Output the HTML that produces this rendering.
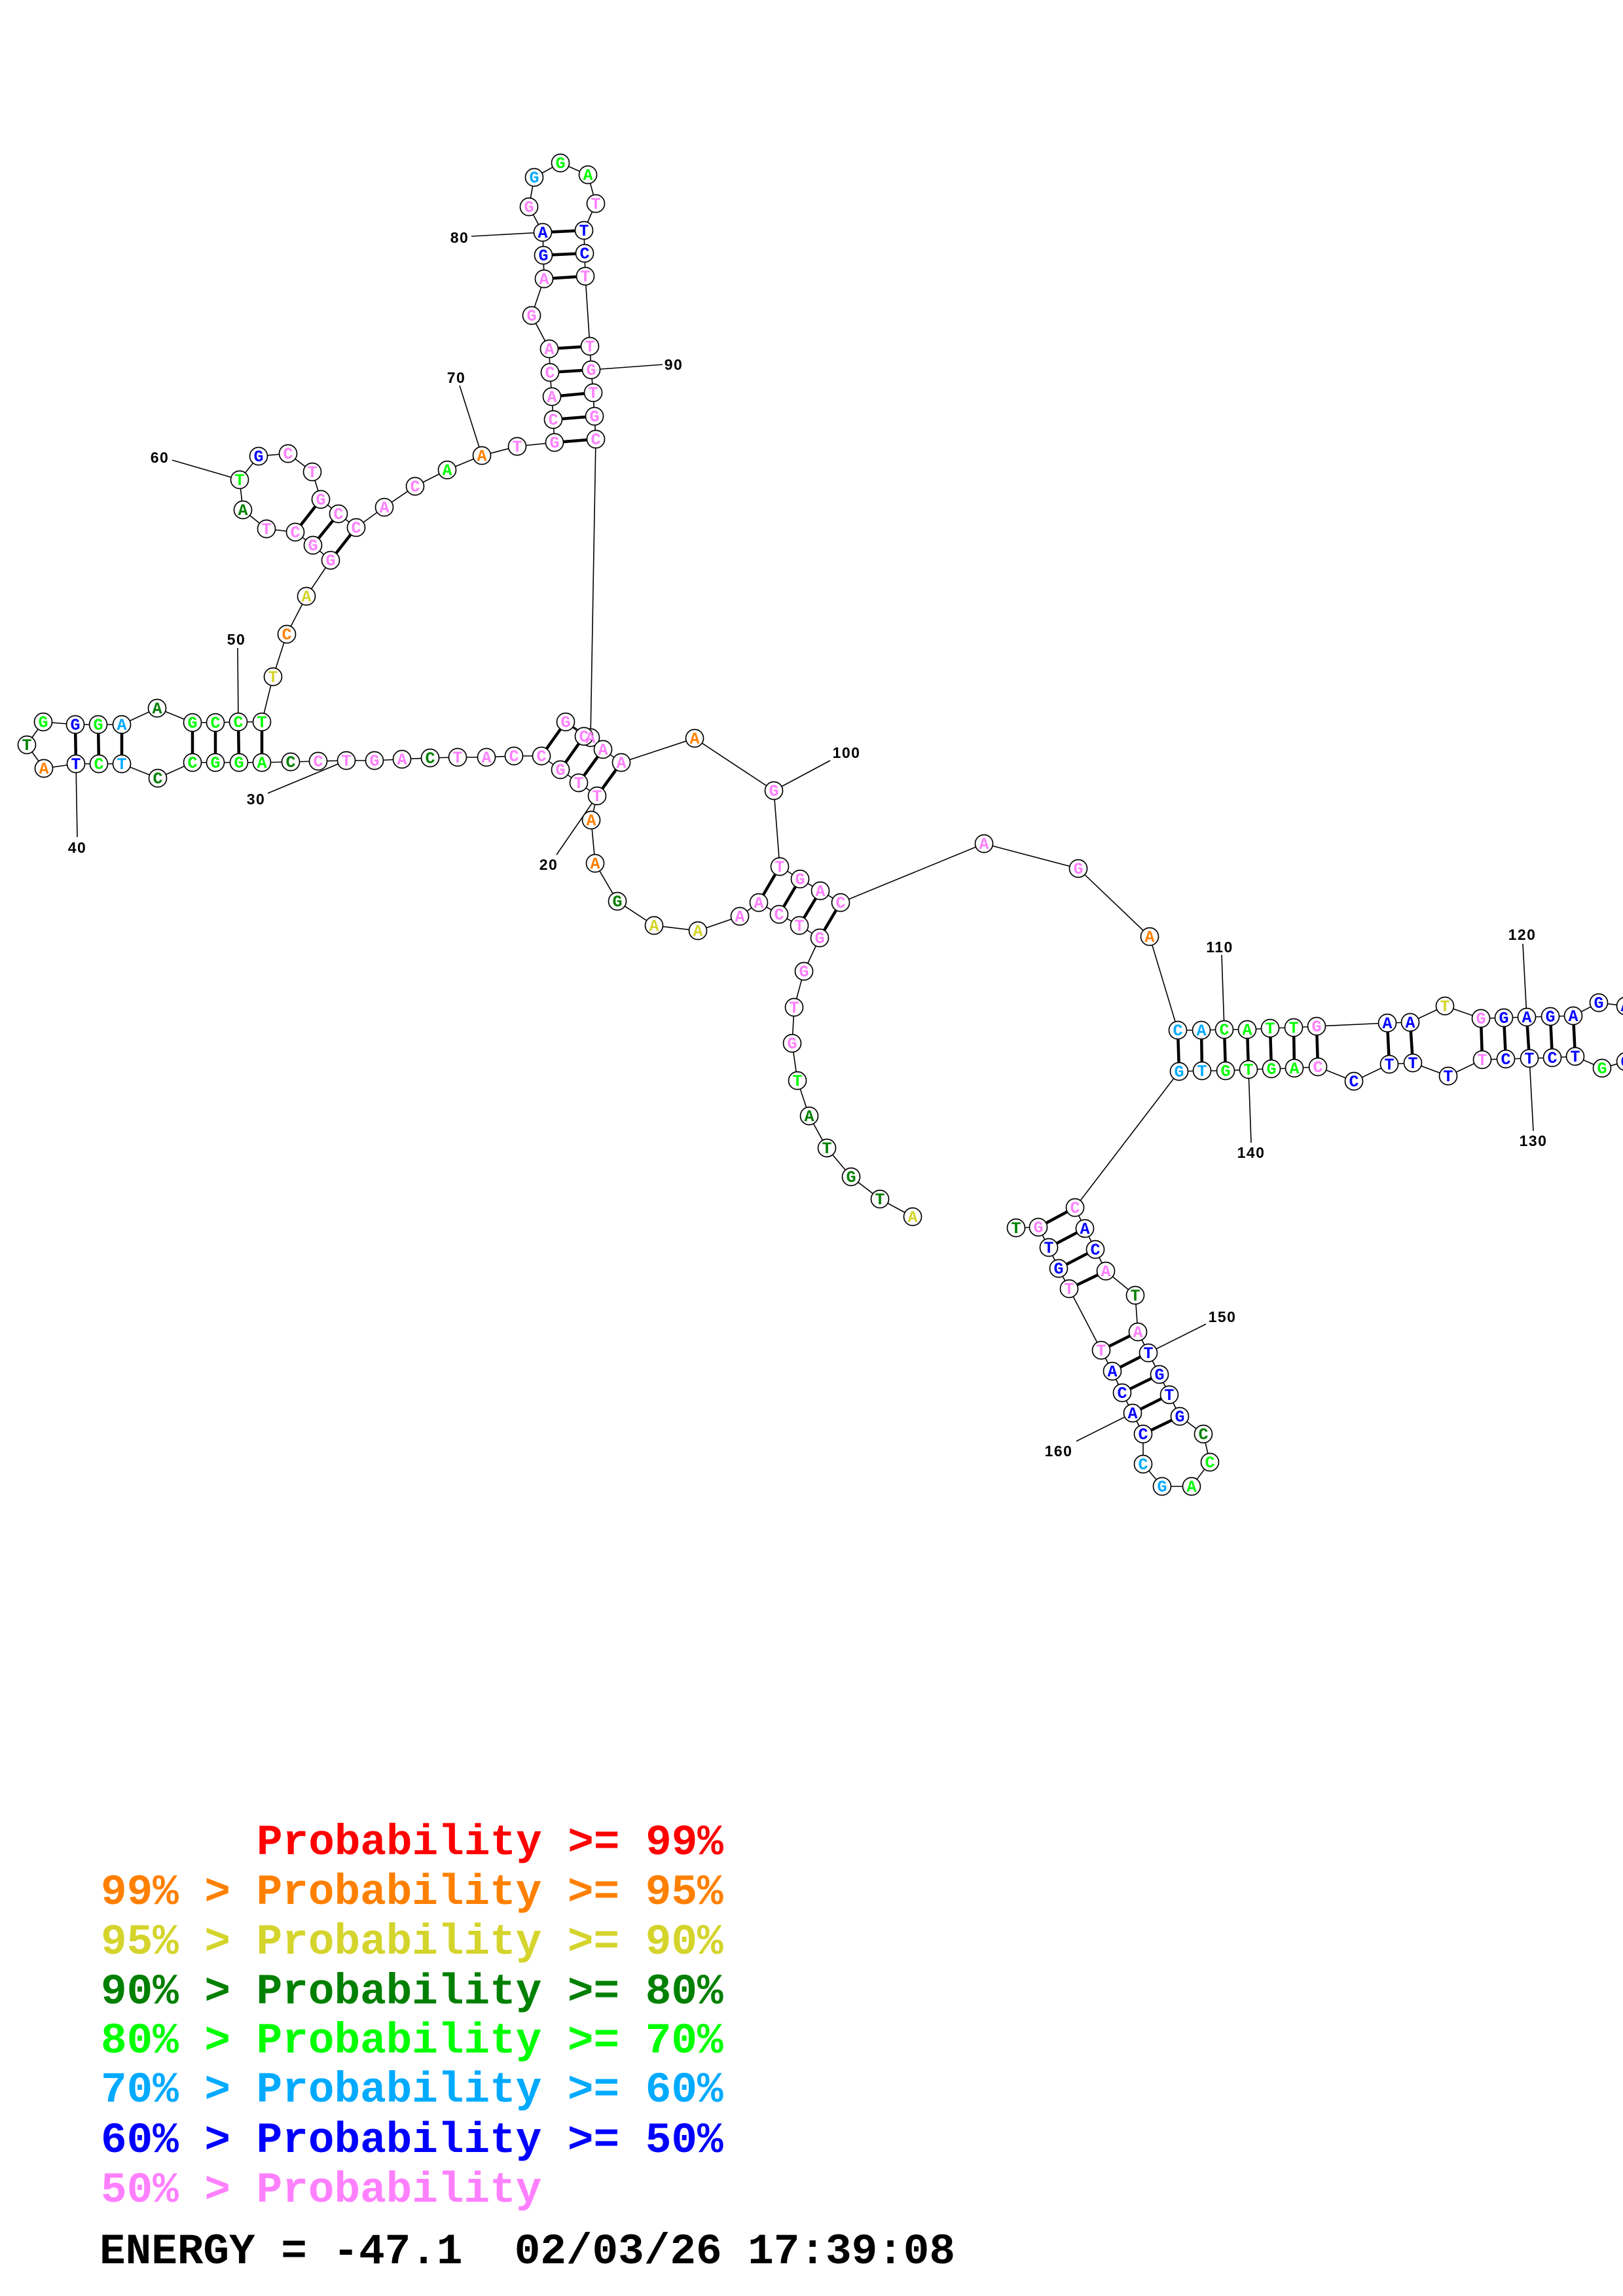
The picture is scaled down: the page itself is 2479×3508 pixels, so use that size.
<!DOCTYPE html>
<html>
<head>
<meta charset="utf-8">
<style>
html,body{margin:0;padding:0;background:#fff;}
svg{display:block;}
.bb{fill:none;stroke:#000;stroke-width:1.6;}
.pr line{stroke:#000;stroke-width:4.5;}
.ll line{stroke:#000;stroke-width:1.6;}
.nc circle{fill:#fff;stroke:#000;stroke-width:1.7;}
.nt text{font-family:"Liberation Mono","DejaVu Sans Mono",monospace;font-weight:bold;font-size:25px;text-anchor:middle;}
.lb text{font-family:"Liberation Sans","DejaVu Sans",sans-serif;font-weight:bold;font-size:23px;text-anchor:middle;letter-spacing:1.5px;fill:#000;}
.lg text{font-family:"Liberation Mono","DejaVu Sans Mono",monospace;font-weight:bold;font-size:66px;}
.P{fill:#ff80ff}.B{fill:#0000ff}.C{fill:#00aaff}.G{fill:#00ff00}.D{fill:#008000}.Y{fill:#d4d42c}.O{fill:#ff8000}.R{fill:#ff0000}.K{fill:#000}
</style>
</head>
<body>
<svg width="2479" height="3508" viewBox="0 0 2479 3508" xmlns="http://www.w3.org/2000/svg">
<rect width="2479" height="3508" fill="#fff"/>

<g class="ll">
<line x1="850" y1="1306" x2="912" y2="1216"/>
<line x1="409" y1="1212" x2="529" y2="1162"/>
<line x1="116" y1="1167" x2="118" y2="1279"/>
<line x1="363" y1="990" x2="364" y2="1103"/>
<line x1="263" y1="703" x2="366" y2="733"/>
<line x1="702" y1="589" x2="736" y2="696"/>
<line x1="720" y1="361" x2="829" y2="355"/>
<line x1="903" y1="565" x2="1012" y2="557"/>
<line x1="1182" y1="1208" x2="1268" y2="1162"/>
<line x1="1866" y1="1459" x2="1870" y2="1573"/>
<line x1="2326" y1="1442" x2="2332" y2="1554"/>
<line x1="2336" y1="1617" x2="2342" y2="1728"/>
<line x1="1907" y1="1634" x2="1911" y2="1746"/>
<line x1="1754" y1="2067" x2="1842" y2="2023"/>
<line x1="1730" y1="2159" x2="1644" y2="2202"/>
</g>

<polyline class="bb" points="1394,1859 1344,1832 1300,1798 1263,1754 1236,1705 1218,1651 1210,1594 1213,1539 1228,1484 1252,1433 1221,1414 1190,1397 1159,1379 1130,1400 1066,1422 999,1414 943,1377 909,1319 903,1253 912,1216 884,1196 856,1176 827,1155 785,1155 743,1157 699,1157 657,1158 614,1160 572,1162 529,1162 486,1163 444,1164 400,1165 365,1165 329,1165 294,1165 241,1189 186,1167 151,1167 116,1167 67,1174 41,1138 66,1103 115,1107 150,1107 186,1107 240,1082 294,1104 329,1104 364,1103 400,1103 417,1034 438,969 468,911 505,856 478,833 451,813 407,808 371,779 366,733 395,697 440,693 477,721 490,763 517,785 544,806 587,775 634,743 683,718 736,696 790,682 847,676 845,641 843,606 840,569 839,533 812,482 831,426 830,390 829,355 808,316 816,271 856,249 898,267 910,311 892,352 893,387 894,422 901,529 903,565 906,600 908,636 910,671 902,1127 864,1103 892,1125 921,1145 949,1165 1061,1128 1182,1208 1191,1324 1222,1343 1253,1361 1284,1379 1503,1289 1647,1327 1756,1431 1799,1574 1835,1574 1870,1573 1905,1573 1940,1571 1976,1570 2011,1568 2119,1563 2154,1562 2207,1537 2262,1556 2297,1555 2332,1554 2368,1553 2403,1552 2442,1532 2483,1537 2515,1580 2483,1622 2447,1632 2406,1614 2371,1616 2336,1617 2300,1618 2264,1619 2212,1644 2158,1624 2122,1626 2068,1652 2013,1630 1977,1632 1942,1633 1907,1634 1872,1636 1836,1636 1801,1637 1642,1845 1657,1877 1673,1909 1689,1942 1734,1979 1738,2035 1754,2067 1771,2100 1786,2131 1802,2164 1838,2191 1848,2234 1820,2271 1775,2271 1746,2237 1746,2191 1730,2159 1714,2128 1699,2095 1682,2063 1633,1969 1617,1938 1602,1906 1586,1875 1552,1876"/>

<g class="pr">
<line x1="1252" y1="1433" x2="1284" y2="1379"/>
<line x1="1221" y1="1414" x2="1253" y2="1361"/>
<line x1="1190" y1="1397" x2="1222" y2="1343"/>
<line x1="1159" y1="1379" x2="1191" y2="1324"/>
<line x1="912" y1="1216" x2="949" y2="1165"/>
<line x1="884" y1="1196" x2="921" y2="1145"/>
<line x1="856" y1="1176" x2="892" y2="1125"/>
<line x1="827" y1="1155" x2="864" y2="1103"/>
<line x1="400" y1="1165" x2="400" y2="1103"/>
<line x1="365" y1="1165" x2="364" y2="1103"/>
<line x1="329" y1="1165" x2="329" y2="1104"/>
<line x1="294" y1="1165" x2="294" y2="1104"/>
<line x1="186" y1="1167" x2="186" y2="1107"/>
<line x1="151" y1="1167" x2="150" y2="1107"/>
<line x1="116" y1="1167" x2="115" y2="1107"/>
<line x1="505" y1="856" x2="544" y2="806"/>
<line x1="478" y1="833" x2="517" y2="785"/>
<line x1="451" y1="813" x2="490" y2="763"/>
<line x1="847" y1="676" x2="910" y2="671"/>
<line x1="845" y1="641" x2="908" y2="636"/>
<line x1="843" y1="606" x2="906" y2="600"/>
<line x1="840" y1="569" x2="903" y2="565"/>
<line x1="839" y1="533" x2="901" y2="529"/>
<line x1="831" y1="426" x2="894" y2="422"/>
<line x1="830" y1="390" x2="893" y2="387"/>
<line x1="829" y1="355" x2="892" y2="352"/>
<line x1="1799" y1="1574" x2="1801" y2="1637"/>
<line x1="1835" y1="1574" x2="1836" y2="1636"/>
<line x1="1870" y1="1573" x2="1872" y2="1636"/>
<line x1="1905" y1="1573" x2="1907" y2="1634"/>
<line x1="1940" y1="1571" x2="1942" y2="1633"/>
<line x1="1976" y1="1570" x2="1977" y2="1632"/>
<line x1="2011" y1="1568" x2="2013" y2="1630"/>
<line x1="2119" y1="1563" x2="2122" y2="1626"/>
<line x1="2154" y1="1562" x2="2158" y2="1624"/>
<line x1="2262" y1="1556" x2="2264" y2="1619"/>
<line x1="2297" y1="1555" x2="2300" y2="1618"/>
<line x1="2332" y1="1554" x2="2336" y2="1617"/>
<line x1="2368" y1="1553" x2="2371" y2="1616"/>
<line x1="2403" y1="1552" x2="2406" y2="1614"/>
<line x1="1642" y1="1845" x2="1586" y2="1875"/>
<line x1="1657" y1="1877" x2="1602" y2="1906"/>
<line x1="1673" y1="1909" x2="1617" y2="1938"/>
<line x1="1689" y1="1942" x2="1633" y2="1969"/>
<line x1="1738" y1="2035" x2="1682" y2="2063"/>
<line x1="1754" y1="2067" x2="1699" y2="2095"/>
<line x1="1771" y1="2100" x2="1714" y2="2128"/>
<line x1="1786" y1="2131" x2="1730" y2="2159"/>
<line x1="1802" y1="2164" x2="1746" y2="2191"/>
</g>

<g class="nc">
<circle cx="1394" cy="1859" r="13.5"/><circle cx="1344" cy="1832" r="13.5"/><circle cx="1300" cy="1798" r="13.5"/><circle cx="1263" cy="1754" r="13.5"/><circle cx="1236" cy="1705" r="13.5"/><circle cx="1218" cy="1651" r="13.5"/><circle cx="1210" cy="1594" r="13.5"/><circle cx="1213" cy="1539" r="13.5"/><circle cx="1228" cy="1484" r="13.5"/><circle cx="1252" cy="1433" r="13.5"/>
<circle cx="1221" cy="1414" r="13.5"/><circle cx="1190" cy="1397" r="13.5"/><circle cx="1159" cy="1379" r="13.5"/><circle cx="1130" cy="1400" r="13.5"/><circle cx="1066" cy="1422" r="13.5"/><circle cx="999" cy="1414" r="13.5"/><circle cx="943" cy="1377" r="13.5"/><circle cx="909" cy="1319" r="13.5"/><circle cx="903" cy="1253" r="13.5"/><circle cx="912" cy="1216" r="13.5"/>
<circle cx="884" cy="1196" r="13.5"/><circle cx="856" cy="1176" r="13.5"/><circle cx="827" cy="1155" r="13.5"/><circle cx="785" cy="1155" r="13.5"/><circle cx="743" cy="1157" r="13.5"/><circle cx="699" cy="1157" r="13.5"/><circle cx="657" cy="1158" r="13.5"/><circle cx="614" cy="1160" r="13.5"/><circle cx="572" cy="1162" r="13.5"/><circle cx="529" cy="1162" r="13.5"/>
<circle cx="486" cy="1163" r="13.5"/><circle cx="444" cy="1164" r="13.5"/><circle cx="400" cy="1165" r="13.5"/><circle cx="365" cy="1165" r="13.5"/><circle cx="329" cy="1165" r="13.5"/><circle cx="294" cy="1165" r="13.5"/><circle cx="241" cy="1189" r="13.5"/><circle cx="186" cy="1167" r="13.5"/><circle cx="151" cy="1167" r="13.5"/><circle cx="116" cy="1167" r="13.5"/>
<circle cx="67" cy="1174" r="13.5"/><circle cx="41" cy="1138" r="13.5"/><circle cx="66" cy="1103" r="13.5"/><circle cx="115" cy="1107" r="13.5"/><circle cx="150" cy="1107" r="13.5"/><circle cx="186" cy="1107" r="13.5"/><circle cx="240" cy="1082" r="13.5"/><circle cx="294" cy="1104" r="13.5"/><circle cx="329" cy="1104" r="13.5"/><circle cx="364" cy="1103" r="13.5"/>
<circle cx="400" cy="1103" r="13.5"/><circle cx="417" cy="1034" r="13.5"/><circle cx="438" cy="969" r="13.5"/><circle cx="468" cy="911" r="13.5"/><circle cx="505" cy="856" r="13.5"/><circle cx="478" cy="833" r="13.5"/><circle cx="451" cy="813" r="13.5"/><circle cx="407" cy="808" r="13.5"/><circle cx="371" cy="779" r="13.5"/><circle cx="366" cy="733" r="13.5"/>
<circle cx="395" cy="697" r="13.5"/><circle cx="440" cy="693" r="13.5"/><circle cx="477" cy="721" r="13.5"/><circle cx="490" cy="763" r="13.5"/><circle cx="517" cy="785" r="13.5"/><circle cx="544" cy="806" r="13.5"/><circle cx="587" cy="775" r="13.5"/><circle cx="634" cy="743" r="13.5"/><circle cx="683" cy="718" r="13.5"/><circle cx="736" cy="696" r="13.5"/>
<circle cx="790" cy="682" r="13.5"/><circle cx="847" cy="676" r="13.5"/><circle cx="845" cy="641" r="13.5"/><circle cx="843" cy="606" r="13.5"/><circle cx="840" cy="569" r="13.5"/><circle cx="839" cy="533" r="13.5"/><circle cx="812" cy="482" r="13.5"/><circle cx="831" cy="426" r="13.5"/><circle cx="830" cy="390" r="13.5"/><circle cx="829" cy="355" r="13.5"/>
<circle cx="808" cy="316" r="13.5"/><circle cx="816" cy="271" r="13.5"/><circle cx="856" cy="249" r="13.5"/><circle cx="898" cy="267" r="13.5"/><circle cx="910" cy="311" r="13.5"/><circle cx="892" cy="352" r="13.5"/><circle cx="893" cy="387" r="13.5"/><circle cx="894" cy="422" r="13.5"/><circle cx="901" cy="529" r="13.5"/><circle cx="903" cy="565" r="13.5"/>
<circle cx="906" cy="600" r="13.5"/><circle cx="908" cy="636" r="13.5"/><circle cx="910" cy="671" r="13.5"/><circle cx="902" cy="1127" r="13.5"/><circle cx="864" cy="1103" r="13.5"/><circle cx="892" cy="1125" r="13.5"/><circle cx="921" cy="1145" r="13.5"/><circle cx="949" cy="1165" r="13.5"/><circle cx="1061" cy="1128" r="13.5"/><circle cx="1182" cy="1208" r="13.5"/>
<circle cx="1191" cy="1324" r="13.5"/><circle cx="1222" cy="1343" r="13.5"/><circle cx="1253" cy="1361" r="13.5"/><circle cx="1284" cy="1379" r="13.5"/><circle cx="1503" cy="1289" r="13.5"/><circle cx="1647" cy="1327" r="13.5"/><circle cx="1756" cy="1431" r="13.5"/><circle cx="1799" cy="1574" r="13.5"/><circle cx="1835" cy="1574" r="13.5"/><circle cx="1870" cy="1573" r="13.5"/>
<circle cx="1905" cy="1573" r="13.5"/><circle cx="1940" cy="1571" r="13.5"/><circle cx="1976" cy="1570" r="13.5"/><circle cx="2011" cy="1568" r="13.5"/><circle cx="2119" cy="1563" r="13.5"/><circle cx="2154" cy="1562" r="13.5"/><circle cx="2207" cy="1537" r="13.5"/><circle cx="2262" cy="1556" r="13.5"/><circle cx="2297" cy="1555" r="13.5"/><circle cx="2332" cy="1554" r="13.5"/>
<circle cx="2368" cy="1553" r="13.5"/><circle cx="2403" cy="1552" r="13.5"/><circle cx="2442" cy="1532" r="13.5"/><circle cx="2483" cy="1537" r="13.5"/><circle cx="2515" cy="1580" r="13.5"/><circle cx="2483" cy="1622" r="13.5"/><circle cx="2447" cy="1632" r="13.5"/><circle cx="2406" cy="1614" r="13.5"/><circle cx="2371" cy="1616" r="13.5"/><circle cx="2336" cy="1617" r="13.5"/>
<circle cx="2300" cy="1618" r="13.5"/><circle cx="2264" cy="1619" r="13.5"/><circle cx="2212" cy="1644" r="13.5"/><circle cx="2158" cy="1624" r="13.5"/><circle cx="2122" cy="1626" r="13.5"/><circle cx="2068" cy="1652" r="13.5"/><circle cx="2013" cy="1630" r="13.5"/><circle cx="1977" cy="1632" r="13.5"/><circle cx="1942" cy="1633" r="13.5"/><circle cx="1907" cy="1634" r="13.5"/>
<circle cx="1872" cy="1636" r="13.5"/><circle cx="1836" cy="1636" r="13.5"/><circle cx="1801" cy="1637" r="13.5"/><circle cx="1642" cy="1845" r="13.5"/><circle cx="1657" cy="1877" r="13.5"/><circle cx="1673" cy="1909" r="13.5"/><circle cx="1689" cy="1942" r="13.5"/><circle cx="1734" cy="1979" r="13.5"/><circle cx="1738" cy="2035" r="13.5"/><circle cx="1754" cy="2067" r="13.5"/>
<circle cx="1771" cy="2100" r="13.5"/><circle cx="1786" cy="2131" r="13.5"/><circle cx="1802" cy="2164" r="13.5"/><circle cx="1838" cy="2191" r="13.5"/><circle cx="1848" cy="2234" r="13.5"/><circle cx="1820" cy="2271" r="13.5"/><circle cx="1775" cy="2271" r="13.5"/><circle cx="1746" cy="2237" r="13.5"/><circle cx="1746" cy="2191" r="13.5"/><circle cx="1730" cy="2159" r="13.5"/>
<circle cx="1714" cy="2128" r="13.5"/><circle cx="1699" cy="2095" r="13.5"/><circle cx="1682" cy="2063" r="13.5"/><circle cx="1633" cy="1969" r="13.5"/><circle cx="1617" cy="1938" r="13.5"/><circle cx="1602" cy="1906" r="13.5"/><circle cx="1586" cy="1875" r="13.5"/><circle cx="1552" cy="1876" r="13.5"/>
</g>

<g class="nt">
<text x="1394" y="1867" class="Y">A</text><text x="1344" y="1840" class="D">T</text><text x="1300" y="1806" class="D">G</text><text x="1263" y="1762" class="D">T</text><text x="1236" y="1713" class="D">A</text><text x="1218" y="1659" class="G">T</text><text x="1210" y="1602" class="P">G</text><text x="1213" y="1547" class="P">T</text><text x="1228" y="1492" class="P">G</text><text x="1252" y="1441" class="P">G</text>
<text x="1221" y="1422" class="P">T</text><text x="1190" y="1405" class="P">C</text><text x="1159" y="1387" class="P">A</text><text x="1130" y="1408" class="P">A</text><text x="1066" y="1430" class="Y">A</text><text x="999" y="1422" class="Y">A</text><text x="943" y="1385" class="D">G</text><text x="909" y="1327" class="O">A</text><text x="903" y="1261" class="O">A</text><text x="912" y="1224" class="P">T</text>
<text x="884" y="1204" class="P">T</text><text x="856" y="1184" class="P">G</text><text x="827" y="1163" class="P">C</text><text x="785" y="1163" class="P">C</text><text x="743" y="1165" class="P">A</text><text x="699" y="1165" class="P">T</text><text x="657" y="1166" class="D">C</text><text x="614" y="1168" class="P">A</text><text x="572" y="1170" class="P">G</text><text x="529" y="1170" class="P">T</text>
<text x="486" y="1171" class="P">C</text><text x="444" y="1172" class="D">C</text><text x="400" y="1173" class="G">A</text><text x="365" y="1173" class="G">G</text><text x="329" y="1173" class="G">G</text><text x="294" y="1173" class="G">C</text><text x="241" y="1197" class="D">C</text><text x="186" y="1175" class="C">T</text><text x="151" y="1175" class="G">C</text><text x="116" y="1175" class="B">T</text>
<text x="67" y="1182" class="O">A</text><text x="41" y="1146" class="D">T</text><text x="66" y="1111" class="G">G</text><text x="115" y="1115" class="B">G</text><text x="150" y="1115" class="G">G</text><text x="186" y="1115" class="C">A</text><text x="240" y="1090" class="D">A</text><text x="294" y="1112" class="G">G</text><text x="329" y="1112" class="G">C</text><text x="364" y="1111" class="G">C</text>
<text x="400" y="1111" class="G">T</text><text x="417" y="1042" class="Y">T</text><text x="438" y="977" class="O">C</text><text x="468" y="919" class="Y">A</text><text x="505" y="864" class="P">G</text><text x="478" y="841" class="P">G</text><text x="451" y="821" class="P">C</text><text x="407" y="816" class="P">T</text><text x="371" y="787" class="D">A</text><text x="366" y="741" class="G">T</text>
<text x="395" y="705" class="B">G</text><text x="440" y="701" class="P">C</text><text x="477" y="729" class="P">T</text><text x="490" y="771" class="P">G</text><text x="517" y="793" class="P">C</text><text x="544" y="814" class="P">C</text><text x="587" y="783" class="P">A</text><text x="634" y="751" class="P">C</text><text x="683" y="726" class="G">A</text><text x="736" y="704" class="O">A</text>
<text x="790" y="690" class="P">T</text><text x="847" y="684" class="P">G</text><text x="845" y="649" class="P">C</text><text x="843" y="614" class="P">A</text><text x="840" y="577" class="P">C</text><text x="839" y="541" class="P">A</text><text x="812" y="490" class="P">G</text><text x="831" y="434" class="P">A</text><text x="830" y="398" class="B">G</text><text x="829" y="363" class="B">A</text>
<text x="808" y="324" class="P">G</text><text x="816" y="279" class="C">G</text><text x="856" y="257" class="G">G</text><text x="898" y="275" class="G">A</text><text x="910" y="319" class="P">T</text><text x="892" y="360" class="B">T</text><text x="893" y="395" class="B">C</text><text x="894" y="430" class="P">T</text><text x="901" y="537" class="P">T</text><text x="903" y="573" class="P">G</text>
<text x="906" y="608" class="P">T</text><text x="908" y="644" class="P">G</text><text x="910" y="679" class="P">C</text><text x="902" y="1135" class="P">A</text><text x="864" y="1111" class="P">G</text><text x="892" y="1133" class="P">C</text><text x="921" y="1153" class="P">A</text><text x="949" y="1173" class="P">A</text><text x="1061" y="1136" class="O">A</text><text x="1182" y="1216" class="P">G</text>
<text x="1191" y="1332" class="P">T</text><text x="1222" y="1351" class="P">G</text><text x="1253" y="1369" class="P">A</text><text x="1284" y="1387" class="P">C</text><text x="1503" y="1297" class="P">A</text><text x="1647" y="1335" class="P">G</text><text x="1756" y="1439" class="O">A</text><text x="1799" y="1582" class="C">C</text><text x="1835" y="1582" class="C">A</text><text x="1870" y="1581" class="G">C</text>
<text x="1905" y="1581" class="G">A</text><text x="1940" y="1579" class="G">T</text><text x="1976" y="1578" class="G">T</text><text x="2011" y="1576" class="P">G</text><text x="2119" y="1571" class="B">A</text><text x="2154" y="1570" class="B">A</text><text x="2207" y="1545" class="Y">T</text><text x="2262" y="1564" class="P">G</text><text x="2297" y="1563" class="B">G</text><text x="2332" y="1562" class="B">A</text>
<text x="2368" y="1561" class="B">G</text><text x="2403" y="1560" class="B">A</text><text x="2442" y="1540" class="B">G</text><text x="2483" y="1545" class="B">A</text><text x="2515" y="1588" class="B">A</text><text x="2483" y="1630" class="B">C</text><text x="2447" y="1640" class="G">G</text><text x="2406" y="1622" class="B">T</text><text x="2371" y="1624" class="B">C</text><text x="2336" y="1625" class="B">T</text>
<text x="2300" y="1626" class="B">C</text><text x="2264" y="1627" class="P">T</text><text x="2212" y="1652" class="B">T</text><text x="2158" y="1632" class="B">T</text><text x="2122" y="1634" class="B">T</text><text x="2068" y="1660" class="B">C</text><text x="2013" y="1638" class="P">C</text><text x="1977" y="1640" class="G">A</text><text x="1942" y="1641" class="G">G</text><text x="1907" y="1642" class="G">T</text>
<text x="1872" y="1644" class="G">G</text><text x="1836" y="1644" class="C">T</text><text x="1801" y="1645" class="C">G</text><text x="1642" y="1853" class="P">C</text><text x="1657" y="1885" class="B">A</text><text x="1673" y="1917" class="B">C</text><text x="1689" y="1950" class="P">A</text><text x="1734" y="1987" class="D">T</text><text x="1738" y="2043" class="P">A</text><text x="1754" y="2075" class="B">T</text>
<text x="1771" y="2108" class="B">G</text><text x="1786" y="2139" class="B">T</text><text x="1802" y="2172" class="B">G</text><text x="1838" y="2199" class="D">C</text><text x="1848" y="2242" class="G">C</text><text x="1820" y="2279" class="G">A</text><text x="1775" y="2279" class="C">G</text><text x="1746" y="2245" class="C">C</text><text x="1746" y="2199" class="B">C</text><text x="1730" y="2167" class="B">A</text>
<text x="1714" y="2136" class="B">C</text><text x="1699" y="2103" class="B">A</text><text x="1682" y="2071" class="P">T</text><text x="1633" y="1977" class="P">T</text><text x="1617" y="1946" class="B">G</text><text x="1602" y="1914" class="B">T</text><text x="1586" y="1883" class="P">G</text><text x="1552" y="1884" class="D">T</text>
</g>

<g class="lb">
<text x="838" y="1329">20</text>
<text x="391" y="1229">30</text>
<text x="118" y="1303">40</text>
<text x="361" y="985">50</text>
<text x="244" y="707">60</text>
<text x="697" y="585">70</text>
<text x="702" y="371">80</text>
<text x="1029" y="565">90</text>
<text x="1293" y="1158">100</text>
<text x="1863" y="1455">110</text>
<text x="2325" y="1436">120</text>
<text x="2342" y="1751">130</text>
<text x="1911" y="1769">140</text>
<text x="1867" y="2020">150</text>
<text x="1617" y="2225">160</text>
</g>

<g class="lg">
<text x="392" y="2833" class="R">Probability &gt;= 99%</text>
<text x="154" y="2909" class="O">99% &gt; Probability &gt;= 95%</text>
<text x="154" y="2985" class="Y">95% &gt; Probability &gt;= 90%</text>
<text x="154" y="3061" class="D">90% &gt; Probability &gt;= 80%</text>
<text x="154" y="3136" class="G">80% &gt; Probability &gt;= 70%</text>
<text x="154" y="3211" class="C">70% &gt; Probability &gt;= 60%</text>
<text x="154" y="3288" class="B">60% &gt; Probability &gt;= 50%</text>
<text x="154" y="3364" class="P">50% &gt; Probability</text>
<text x="152" y="3458" class="K" xml:space="preserve">ENERGY = -47.1  02/03/26 17:39:08</text>
</g>
</svg>
</body>
</html>
